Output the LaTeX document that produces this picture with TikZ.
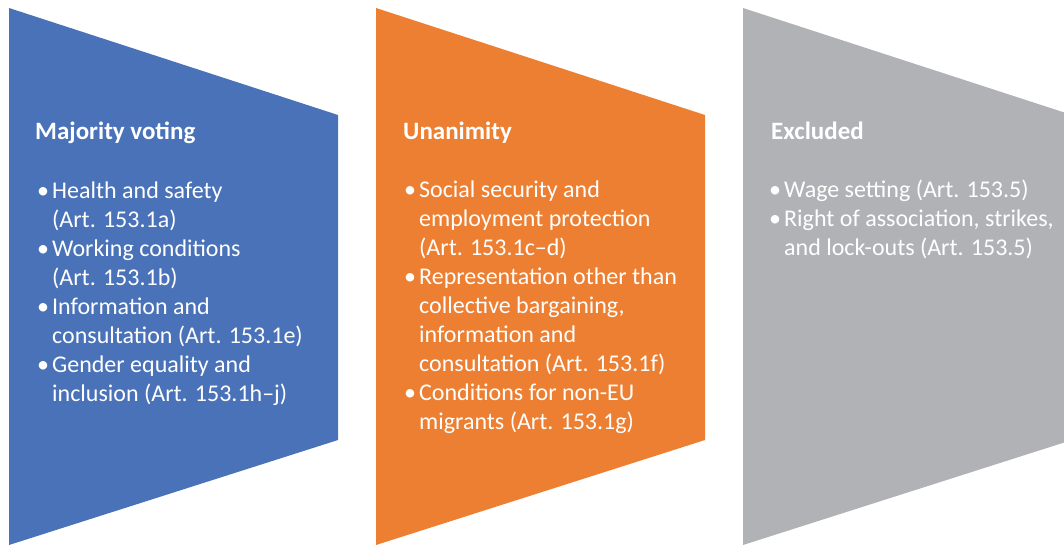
\documentclass[tikz,border=0pt]{standalone}
\usepackage{fontspec}
\setmainfont{Carlito}
\usepackage{tikz}
\usetikzlibrary{calc}
\usetikzlibrary{positioning}

\definecolor{votblue}{HTML}{4A72B8}
\definecolor{unaorange}{HTML}{ED7F32}
\definecolor{excgrey}{HTML}{B1B2B6}

\newcommand{\bul}{\makebox[14pt][l]{\hspace*{-1pt}\textbullet}}
\newcommand{\ind}{\hspace*{14pt}}

\tikzset{
  heading/.style={anchor=base west,inner sep=0pt,text=white,font=\fontsize{25}{29}\selectfont\bfseries},
  itemlist/.style={anchor=base west,inner sep=0pt,text=white,align=left,font=\fontsize{24}{29}\selectfont}
}

\begin{document}
\begin{tikzpicture}[x=1pt,y=-1pt]
      \clip (0,0) rectangle (1064,544);
      % the three panels
      \fill[votblue] (9,8) coordinate (b0) -- (338,115) -- (338,440) -- (9,545) -- cycle;
      \fill[unaorange] (376,8) coordinate (o0) -- (705,115) -- (705,440) -- (376,545) -- cycle;
      \fill[excgrey] (743,8) coordinate (g0) -- (1072,115) -- (1072,440) -- (743,545) -- cycle;

      \node[heading] (maj) at ($(b0)+(26,131.5)$) {Majority voting};
      \node[heading] (una) at ($(o0)+(27,131.5)$) {Unanimity};
      \node[heading] (exc) at ($(g0)+(28,131.5)$) {Excluded};

      % lists sit on the baseline of their last line
      \node[itemlist] (majlist) at ($(b0)+(29,393)$) {\bul Health and safety\\
        \ind(Art. 153.1a)\\
        \bul Working conditions\\
        \ind(Art. 153.1b)\\
        \bul Information and\\
        \ind consultation (Art. 153.1e)\\
        \bul Gender equality and\\
        \ind inclusion (Art. 153.1h–j)};
      \node[itemlist] (unalist) at ($(o0)+(29,421)$) {\bul Social security and\\
        \ind employment protection\\
        \ind(Art. 153.1c–d)\\
        \bul Representation other than\\
        \ind collective bargaining,\\
        \ind information and\\
        \ind consultation (Art. 153.1f)\\
        \bul Conditions for non-EU\\
        \ind migrants (Art. 153.1g)};
      \node[itemlist] (exclist) at ($(g0)+(27,247)$) {\bul Wage setting (Art. 153.5)\\
        \bul Right of association, strikes,\\
        \ind and lock-outs (Art. 153.5)};
\end{tikzpicture}
\end{document}
